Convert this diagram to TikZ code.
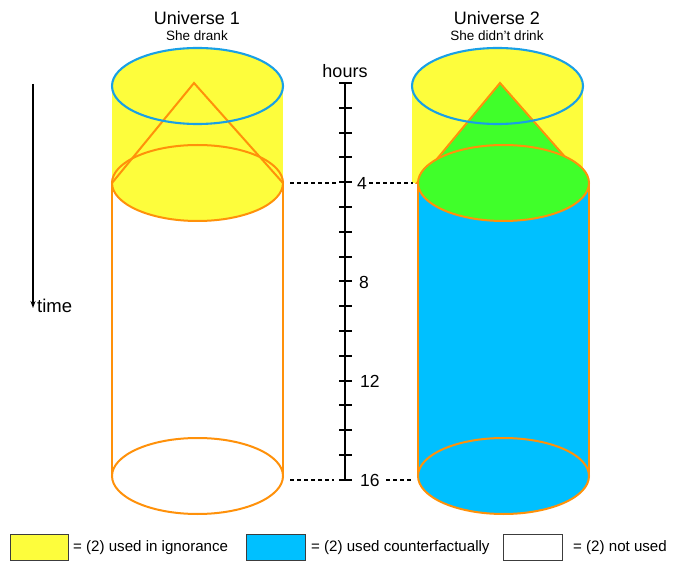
\documentclass[tikz,border=0pt]{standalone}
\usepackage{fontspec}
\setmainfont{Liberation Sans}
\usetikzlibrary{arrows.meta,calc}
\definecolor{yel}{RGB}{253,253,60}
\definecolor{sky}{RGB}{0,192,255}
\definecolor{grn}{RGB}{64,255,42}
\definecolor{org}{RGB}{255,145,10}
\definecolor{rim}{RGB}{25,160,230}
\definecolor{legbd}{RGB}{60,60,60}
\begin{document}
\begin{tikzpicture}[x=1pt,y=-1pt,
  orgline/.style={draw=org,line width=2pt},
  rimline/.style={draw=rim,line width=2.1pt},
  dashln/.style={line width=1.5pt,dash pattern=on 4pt off 3pt},
  title/.style={font=\fontsize{18}{20}\selectfont},
  subtitle/.style={font=\fontsize{13.5}{15}\selectfont},
  axlabel/.style={font=\fontsize{17.5}{19}\selectfont,anchor=west,inner sep=0pt},
  legbox/.style={draw=legbd,line width=0.8pt},
  legtext/.style={font=\fontsize{15.1}{17}\selectfont,anchor=west,inner sep=0pt},
  er/.style={x radius=85.5,y radius=38}]
\useasboundingbox (0,0) rectangle (678,572);
% ---------------- Universe 1 ----------------
\fill[yel] (112,86) rectangle (283,183);
\fill[yel] (197.5,86) ellipse [er];
\path[fill=yel,orgline] (197.5,183) ellipse [er];
\draw[orgline] (112,183) -- (112,476) (283,183) -- (283,476);
\draw[orgline] (197.5,476) ellipse [er];
\draw[orgline] (112,183) -- (194,83) -- (283,183);
\draw[rimline] (197.5,86) ellipse [er];
% ---------------- Universe 2 ----------------
\fill[yel] (412,86) rectangle (583,183);
\fill[yel] (497.5,86) ellipse [er];
\fill[sky] (418,183) rectangle (589,476);
\path[fill=sky,orgline] (503.5,476) ellipse [er];
\draw[orgline] (418,183) -- (418,476) (589,183) -- (589,476);
\path[fill=grn,orgline] (417,183) -- (500,83) -- (588,183) -- cycle;
\path[fill=grn,orgline] (503.5,183) ellipse [er];
\draw[rimline] (497.5,86) ellipse [er];
% ---------------- titles ----------------
\node[title] (t1) at (197,18) {Universe 1};
\node[subtitle] (s1) at (197,36) {She drank};
\node[title] (t2) at (497,18) {Universe 2};
\node[subtitle] (s2) at (497,36) {She didn’t drink};
% ---------------- axis ----------------
\coordinate (ax0) at (345,83);
\coordinate (ax16) at (345,480);
\draw[line width=2pt] (ax0) -- (ax16);
\foreach \k in {0,...,16} {
  \draw[line width=2pt] ($(339,83)+(0,24.8*\k)$) -- ++(13,0);
}
\node[title] (hrs) at (345,71) {hours};
\node[axlabel] (l4) at (357,183.2) {4};
\node[axlabel] (l8) at (359,282.4) {8};
\node[axlabel] (l12) at (360,381.6) {12};
\node[axlabel] (l16) at (360,480.8) {16};
% dashed guides
\coordinate (d1a) at (290,183); \coordinate (d1b) at (337,183);
\coordinate (d2a) at (369,183); \coordinate (d2b) at (413,183);
\coordinate (d3a) at (290,480); \coordinate (d3b) at (334,480);
\coordinate (d4a) at (386,480); \coordinate (d4b) at (411,480);
\draw[dashln] (d1a) -- (d1b);
\draw[dashln] (d2a) -- (d2b);
\draw[dashln] (d3a) -- (d3b);
\draw[dashln] (d4a) -- (d4b);
% time arrow
\coordinate (tm0) at (33,84);
\node[axlabel,font=\fontsize{18.5}{20}\selectfont] (tm) at (37,306) {time};
\draw[line width=1.6pt,-{Stealth[length=7pt,width=5pt]}] (tm0) -- (33,308);
% ---------------- legend ----------------
\node[legbox,fill=yel,minimum width=58pt,minimum height=26pt,inner sep=0pt] (k1) at (39,547) {};
\node[legtext] (k1t) at (73,548) {= (2) used in ignorance};
\node[legbox,fill=sky,minimum width=59pt,minimum height=26pt,inner sep=0pt] (k2) at (275.5,547) {};
\node[legtext] (k2t) at (311,548) {= (2) used counterfactually};
\node[legbox,fill=white,minimum width=59pt,minimum height=26pt,inner sep=0pt] (k3) at (532.5,547) {};
\node[legtext] (k3t) at (573,548) {= (2) not used};
\end{tikzpicture}
\end{document}
